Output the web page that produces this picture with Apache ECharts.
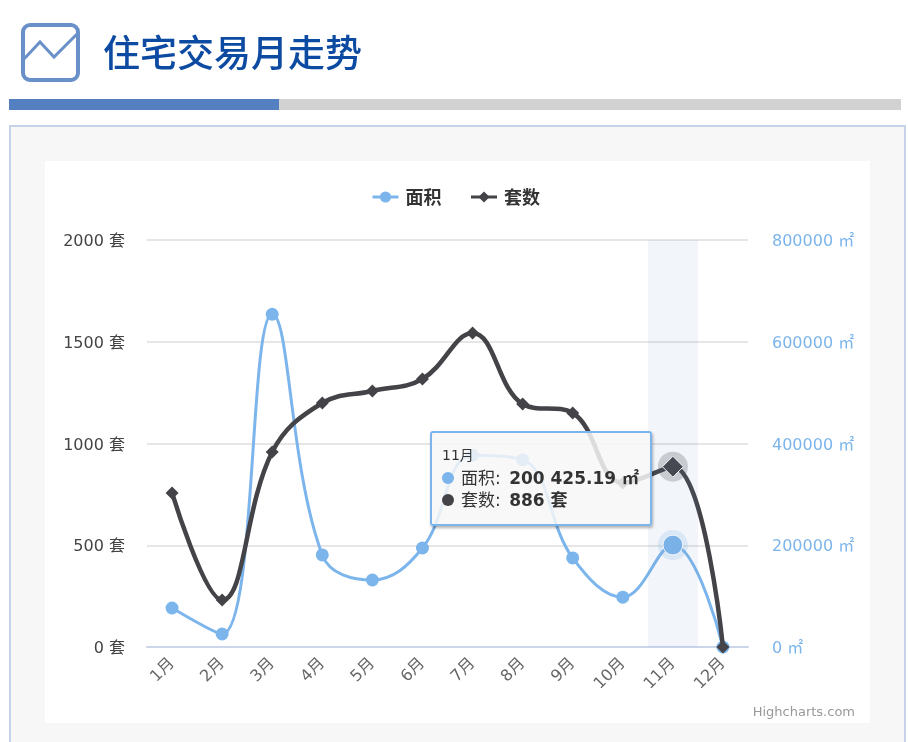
<!DOCTYPE html>
<html><head><meta charset="utf-8">
<style>html,body{margin:0;padding:0;background:#fff;overflow:hidden}#c{width:908px;height:742px}</style>
<script src="https://cdn.jsdelivr.net/npm/echarts@6/dist/echarts.min.js"></script>
</head><body><div id="c"></div>
<script>
const categories=['1月','2月','3月','4月','5月','6月','7月','8月','9月','10月','11月','12月'];
const areaValues=[76700,25500,654000,181000,131700,194600,377000,368000,175000,98000,200425.19,0];
const countValues=[757,231,958,1199,1258,1317,1543,1194,1150,806,886,0];
const hi=10;
const FONT='"DejaVu Sans","Noto Sans CJK SC",sans-serif';
const BLUE='#7cb5ec',DARK='#434348';
const chart=echarts.init(document.getElementById('c'),null,{renderer:'canvas'});
chart.setOption({
 animation:false,
 textStyle:{fontFamily:FONT},
 title:{text:'住宅交易月走势',left:98,top:29,textStyle:{fontFamily:'"Noto Sans CJK SC",sans-serif',fontSize:37,fontWeight:500,color:'#0d4ba3'}},
 graphic:[
  {type:'rect',z:-10,shape:{x:9,y:99,width:892,height:11},style:{fill:'#d2d2d2'},silent:true},
  {type:'rect',z:-9,shape:{x:9,y:99,width:270,height:11},style:{fill:'#5480c2'},silent:true},
  {type:'rect',z:-10,shape:{x:10,y:126,width:895,height:640},style:{fill:'#f7f7f7',stroke:'#c5d2e8',lineWidth:2},silent:true},
  {type:'rect',z:-9,shape:{x:45,y:161,width:825,height:562},style:{fill:'#ffffff'},silent:true},
  {type:'rect',z:-9,shape:{x:23,y:25,width:55,height:55,r:7},style:{fill:'none',stroke:'#6a90c9',lineWidth:4},silent:true},
  {type:'polyline',z:-9,shape:{points:[[24,59],[40,42],[54,57],[77,34]]},style:{fill:'none',stroke:'#6a90c9',lineWidth:3},silent:true},
  {type:'text',z:5,right:53,top:706,style:{text:'Highcharts.com',fill:'#999999',font:'13px '+FONT},silent:true}
 ],
 legend:{top:183,left:366,itemGap:28,itemWidth:26,itemHeight:14,
  data:['面积','套数'],selectedMode:false,lineStyle:{width:3},
  textStyle:{fontFamily:'"Noto Sans CJK SC",sans-serif',fontSize:18,fontWeight:'bold',color:'#333333',padding:[0,0,0,2]}},
 grid:{left:147,right:160,top:240,height:407,containLabel:false},
 tooltip:{trigger:'axis',show:true,alwaysShowContent:true,transitionDuration:0,
  axisPointer:{type:'shadow',shadowStyle:{color:'rgba(110,140,190,0.085)'}},
  position:[430,431],padding:[14,10],
  backgroundColor:'rgba(247,247,247,0.85)',borderColor:BLUE,borderWidth:2,
  extraCssText:'box-sizing:border-box;width:222px;height:95px;border-radius:3px;box-shadow:1px 2px 3px rgba(0,0,0,.3);',
  formatter(){
   const i=hi;
   const row=(c,n,v,u)=>`<div style="font-size:17px;line-height:22px;color:#333;white-space:nowrap"><span style="display:inline-block;width:12px;height:12px;border-radius:50%;background:${c};margin-right:7px"></span>${n}: <b style="margin-left:3px">${v} ${u}</b></div>`;
   const a=areaValues[i].toFixed(2).replace(/\B(?=(\d{3})+\.)/g,' ');
   return `<div style="font-size:14px;color:#333;line-height:16px;margin-bottom:4px">${categories[i]}</div>`+row(BLUE,'面积',a,'㎡')+row(DARK,'套数',countValues[i],'套');
  }},
 xAxis:{type:'category',data:categories,boundaryGap:true,
  axisLine:{lineStyle:{color:'#ccd6eb',width:2}},axisTick:{show:false},
  axisLabel:{rotate:45,interval:0,color:'#666666',fontSize:16,margin:14}},
 yAxis:[
  {type:'value',min:0,max:2000,interval:500,position:'left',
   axisLine:{show:false},axisTick:{show:false},
   splitLine:{lineStyle:{color:'#e6e6e6',width:2}},
   axisLabel:{formatter:v=>v+' 套',color:'#444444',fontSize:16,margin:22,verticalAlign:'top',lineHeight:4}},
  {type:'value',min:0,max:800000,interval:200000,position:'right',
   axisLine:{show:false},axisTick:{show:false},splitLine:{show:false},
   axisLabel:{formatter:v=>v+' ㎡',color:BLUE,fontSize:16,margin:24,verticalAlign:'top',lineHeight:4}}
 ],
 series:[
  {name:'halo1',type:'scatter',yAxisIndex:1,z:1,symbolSize:30,silent:true,tooltip:{show:false},emphasis:{disabled:true},
   itemStyle:{color:'rgba(124,181,236,0.25)'},data:[[hi,areaValues[hi]]]},
  {name:'halo2',type:'scatter',yAxisIndex:0,z:1,symbolSize:30,silent:true,tooltip:{show:false},emphasis:{disabled:true},
   itemStyle:{color:'rgba(67,67,72,0.3)'},data:[[hi,countValues[hi]]]},
  {name:'面积',type:'line',yAxisIndex:1,z:3,smooth:0.4,symbol:'circle',symbolSize:13,showSymbol:true,emphasis:{disabled:true},
   lineStyle:{color:BLUE,width:3},itemStyle:{color:BLUE},
   data:areaValues.map((v,i)=>i===hi?{value:v,symbolSize:18,itemStyle:{color:BLUE,borderColor:'#fff',borderWidth:1}}:v)},
  {name:'套数',type:'line',yAxisIndex:0,z:4,smooth:0.4,symbol:'diamond',symbolSize:13,showSymbol:true,emphasis:{disabled:true},
   lineStyle:{color:DARK,width:4.5},itemStyle:{color:DARK},
   data:countValues.map((v,i)=>i===hi?{value:v,symbolSize:19,itemStyle:{color:DARK,borderColor:'#fff',borderWidth:1}}:v)}
 ]
});
chart.dispatchAction({type:'showTip',seriesIndex:2,dataIndex:hi});
</script></body></html>
